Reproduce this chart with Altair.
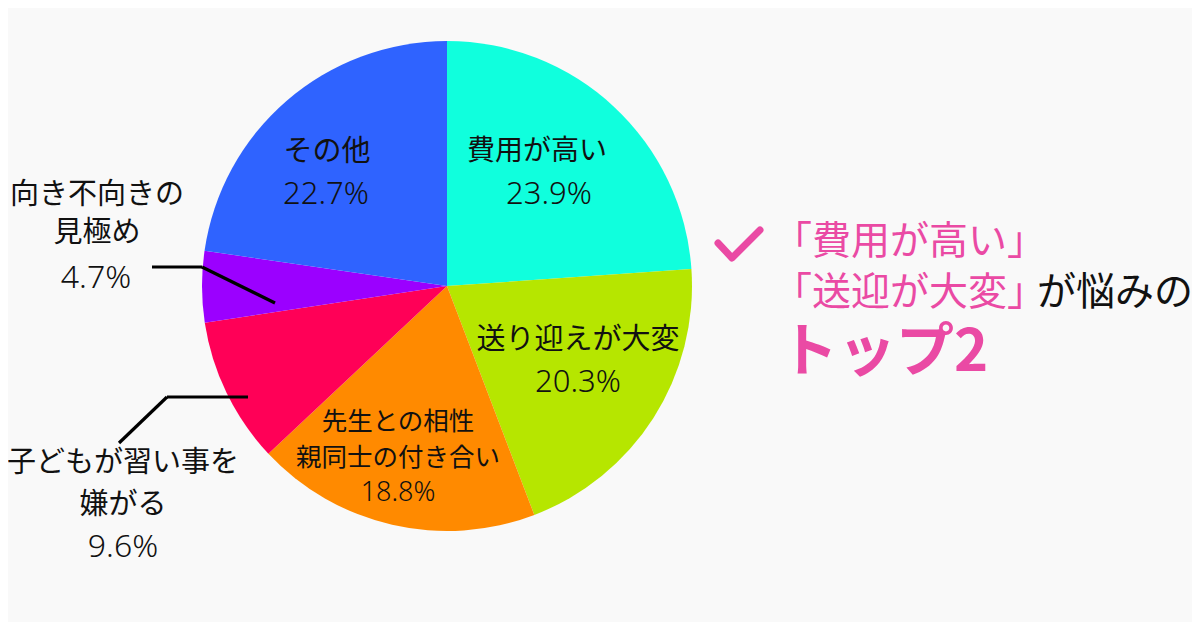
import altair as alt
import pandas as pd

# ---- data ----
categories = ["費用が高い", "送り迎えが大変", "先生との相性・親同士の付き合い",
              "子どもが習い事を嫌がる", "向き不向きの見極め", "その他"]
values = [23.9, 20.3, 18.8, 9.6, 4.7, 22.7]
colors = ["#10FFDD", "#B6E600", "#FF8A00", "#FF0057", "#9B00FF", "#2F63FF"]
label_lines = [["費用が高い"], ["送り迎えが大変"], ["先生との相性", "親同士の付き合い"],
               ["子どもが習い事を", "嫌がる"], ["向き不向きの", "見極め"], ["その他"]]

# ---- layout (page pixel coordinates) ----
W, H = 1184, 614
CX, CY, R = 447, 286, 245
FONT = "Noto Sans CJK JP"
NUMFONT = "Noto Sans"
PINK = "#EA4AA4"
# per category: (name x, name line ys, name size, pct x, pct y, pct size)
label_pos = [
    (537, [152], 28, 549, 195, 31),
    (578, [340], 29, 578, 383, 31),
    (398, [422, 458], 25.5, 398, 493, 27),
    (123, [463, 505], 29, 123, 547, 32),
    (97, [195, 233], 29, 96, 278, 32),
    (327, [152], 29, 326, 195, 31),
]
leaders = [  # x, y, x2, y2
    (152, 267, 202, 267), (202, 267, 275, 303),
    (248, 397, 167, 397), (167, 397, 119, 443),
]
check_pts = [(718, 243), (732, 258), (760, 230)]

xs = alt.Scale(domain=[8, 8 + W], range=[0, W])
ys = alt.Scale(domain=[8, 8 + H], range=[0, H])
X = lambda f: alt.X(f, scale=xs, axis=None)
Y = lambda f: alt.Y(f, scale=ys, axis=None)

pie_df = pd.DataFrame({"cat": categories, "val": values, "idx": range(len(values))})
pie = alt.Chart(pie_df).mark_arc(outerRadius=R).encode(
    x=alt.datum(CX, scale=xs, axis=None),
    y=alt.datum(CY, scale=ys, axis=None),
    theta=alt.Theta("val:Q", stack=True),
    order=alt.Order("idx:Q"),
    color=alt.Color("cat:N", scale=alt.Scale(domain=categories, range=colors), legend=None),
)

rows, prow = [], []
for lines, v, (nx, nys, ns, px, py, ps) in zip(label_lines, values, label_pos):
    for t, yy in zip(lines, nys):
        rows.append({"t": t, "x": nx, "y": yy, "s": ns})
    prow.append({"t": f"{v}%", "x": px, "y": py, "s": ps})
labels = alt.Chart(pd.DataFrame(rows)).mark_text(
    font=FONT, baseline="middle", align="center", color="#111111").encode(
    x=X("x:Q"), y=Y("y:Q"), text="t:N", size=alt.Size("s:Q", scale=None)
)
pcts = alt.Chart(pd.DataFrame(prow)).mark_text(
    font=NUMFONT, baseline="middle", align="center", color="#111111", fontWeight=300).encode(
    x=X("x:Q"), y=Y("y:Q"), text="t:N", size=alt.Size("s:Q", scale=None)
)

lead_df = pd.DataFrame(leaders, columns=["x", "y", "x2", "y2"])
lead = alt.Chart(lead_df).mark_rule(color="#000000", strokeWidth=3.2).encode(
    x=X("x:Q"), y=Y("y:Q"), x2="x2:Q", y2="y2:Q"
)

chk_df = pd.DataFrame(check_pts, columns=["x", "y"]).reset_index()
check = alt.Chart(chk_df).mark_line(color=PINK, strokeWidth=7, strokeCap="round", strokeJoin="round").encode(
    x=X("x:Q"), y=Y("y:Q"), order="index:Q"
)

ann_df = pd.DataFrame([
    {"t": "「費用が高い」", "x": 773, "y": 242, "c": PINK},
    {"t": "「送迎が大変」", "x": 773, "y": 293, "c": PINK},
    {"t": "が悩みの", "x": 1037, "y": 293, "c": "#111111"},
])
ann = alt.Chart(ann_df).mark_text(font=FONT, fontSize=39, align="left", baseline="middle").encode(
    x=X("x:Q"), y=Y("y:Q"), text="t:N", color=alt.Color("c:N", scale=None)
)
top_df = pd.DataFrame([{"t": "トップ2", "x": 780, "y": 354}])
top = alt.Chart(top_df).mark_text(font=FONT, fontSize=58, fontWeight="bold", align="left",
                                  baseline="middle", color=PINK).encode(
    x=X("x:Q"), y=Y("y:Q"), text="t:N"
)

chart = alt.layer(pie, lead, labels, pcts, check, ann, top).properties(
    width=W, height=H, padding=0, autosize=alt.AutoSizeParams(type="none"),
    background="#F9F9F9",
).configure_view(strokeWidth=0)

chart.save("out.html", embed_options={"renderer": "svg", "actions": False})
